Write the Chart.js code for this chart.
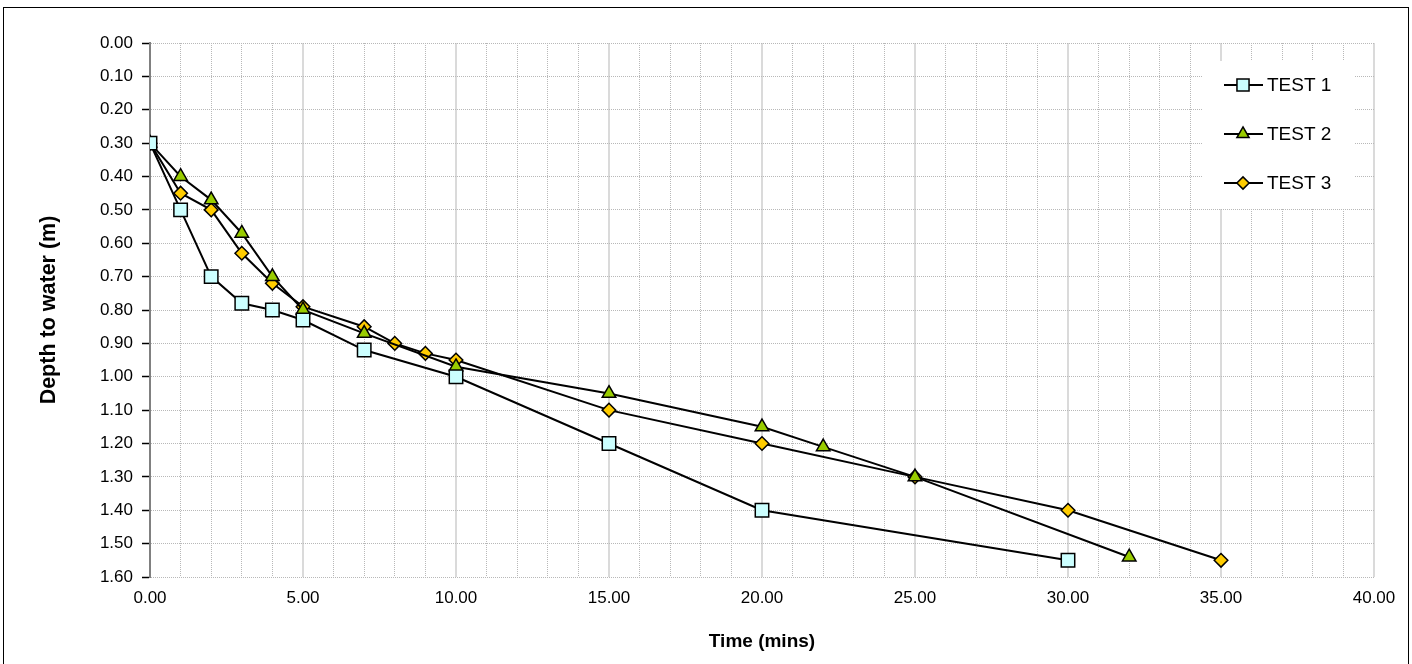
<!DOCTYPE html>
<html>
<head>
<meta charset="utf-8">
<title>Depth to water</title>
<script src="https://cdn.jsdelivr.net/npm/chart.js@4/dist/chart.umd.min.js"></script>
<style>
  html, body { margin: 0; padding: 0; background: #fff; }
  #wrap { width: 1412px; height: 664px; }
</style>
</head>
<body>
<div id="wrap"><canvas id="depth" width="1412" height="664"></canvas></div>
<script>
// readings: elapsed time (mins) and depth to water (m)
var time1 = [0, 1, 2, 3, 4, 5, 7, 10, 15, 20, 30];
var depth1 = [0.30, 0.50, 0.70, 0.78, 0.80, 0.83, 0.92, 1.00, 1.20, 1.40, 1.55];

var time2 = [0, 1, 2, 3, 4, 5, 7, 10, 15, 20, 22, 25, 32];
var depth2 = [0.30, 0.40, 0.47, 0.57, 0.70, 0.80, 0.87, 0.97, 1.05, 1.15, 1.21, 1.30, 1.54];

var time3 = [0, 1, 2, 3, 4, 5, 7, 8, 9, 10, 15, 20, 25, 30, 35];
var depth3 = [0.30, 0.45, 0.50, 0.63, 0.72, 0.79, 0.85, 0.90, 0.93, 0.95, 1.10, 1.20, 1.30, 1.40, 1.55];

var testNames = ["TEST 1", "TEST 2", "TEST 3"];

var FONT = "'Liberation Sans', Arial, sans-serif";

function pairs(xs, ys) {
    return xs.map(function (x, i) { return { x: x, y: ys[i] }; });
}

function series(label, xs, ys, style, fill, radius) {
    return {
        label: label,
        data: pairs(xs, ys),
        borderColor: "#000",
        borderWidth: 2,
        pointStyle: style,
        pointRadius: radius,
        pointHoverRadius: radius,
        pointBackgroundColor: fill,
        pointBorderColor: "#000",
        pointBorderWidth: 1.5,
        tension: 0
    };
}

// legend box in the top right corner, line + marker + name
var boxLegend = {
    id: "boxLegend",
    afterDatasetsDraw: function (chart) {
        var ctx = chart.ctx;
        ctx.save();
        ctx.fillStyle = "#fff";
        ctx.fillRect(1202, 61, 152, 148);
        chart.data.datasets.forEach(function (ds, i) {
            var y = 85 + i * 49;
            ctx.strokeStyle = "#000";
            ctx.lineWidth = 2;
            ctx.beginPath();
            ctx.moveTo(1224, y);
            ctx.lineTo(1263, y);
            ctx.stroke();
            ctx.fillStyle = ds.pointBackgroundColor;
            ctx.strokeStyle = "#000";
            ctx.lineWidth = 1.5;
            Chart.helpers.drawPoint(ctx, {
                pointStyle: ds.pointStyle,
                radius: ds.pointRadius * 0.9,
                borderWidth: 1.5
            }, 1243, y);
            ctx.fillStyle = "#000";
            ctx.font = "19px " + FONT;
            ctx.textBaseline = "middle";
            ctx.textAlign = "left";
            ctx.fillText(ds.label, 1267, y + 1);
        });
        ctx.restore();
    }
};

// thin frame round the whole chart
var frame = {
    id: "frame",
    afterDraw: function (chart) {
        var ctx = chart.ctx;
        ctx.save();
        ctx.strokeStyle = "#000";
        ctx.lineWidth = 1;
        ctx.strokeRect(3.5, 7.5, 1405, 670);
        ctx.restore();
    }
};

new Chart("depth", {
    type: "line",
    data: {
        datasets: [
            series(testNames[0], time1, depth1, "rect", "#CCFFFF", 9.5),
            series(testNames[1], time2, depth2, "triangle", "#99CC00", 7.8),
            series(testNames[2], time3, depth3, "rectRot", "#FFCC00", 6.8)
        ]
    },
    options: {
        responsive: false,
        animation: false,
        events: [],
        layout: { padding: { top: 43, right: 38, left: 0, bottom: 0 } },
        plugins: {
            legend: { display: false },
            tooltip: { enabled: false }
        },
        scales: {
            x: {
                type: "linear",
                min: 0,
                max: 40,
                afterFit: function (s) { s.height = 87; },
                ticks: {
                    stepSize: 1,
                    autoSkip: false,
                    maxRotation: 0,
                    padding: 11,
                    color: "#000",
                    font: { family: FONT, size: 17 },
                    callback: function (v) { return v % 5 === 0 ? v.toFixed(2) : ""; }
                },
                grid: {
                    drawTicks: false,
                    color: function (c) { return c.tick && c.tick.value % 5 === 0 ? "#dadada" : "#b8b8b8"; },
                    lineWidth: function (c) { return c.tick && c.tick.value % 5 === 0 ? 2 : 1; }
                },
                border: {
                    display: false,
                    dash: function (c) { return c.tick && c.tick.value % 5 === 0 ? [] : [1, 1]; }
                },
                title: {
                    display: true,
                    text: "Time (mins)",
                    color: "#000",
                    font: { family: FONT, size: 19, weight: "bold" },
                    padding: { top: 0, bottom: 11 }
                }
            },
            y: {
                type: "linear",
                reverse: true,
                min: 0,
                max: 1.6,
                afterFit: function (s) { s.width = 150; },
                ticks: {
                    stepSize: 0.1,
                    padding: 9,
                    color: "#000",
                    font: { family: FONT, size: 17 },
                    callback: function (v) { return v.toFixed(2); }
                },
                grid: {
                    color: "#b8b8b8",
                    lineWidth: 1,
                    tickLength: 8,
                    tickColor: "#000",
                    tickWidth: 1.5
                },
                border: {
                    display: true,
                    color: "#808080",
                    width: 2,
                    dash: [1, 1]
                },
                title: {
                    display: true,
                    text: "Depth to water (m)",
                    color: "#000",
                    font: { family: FONT, size: 21.5, weight: "bold" },
                    padding: { top: 36, bottom: 0 }
                }
            }
        }
    },
    plugins: [boxLegend, frame]
});
</script>
</body>
</html>
